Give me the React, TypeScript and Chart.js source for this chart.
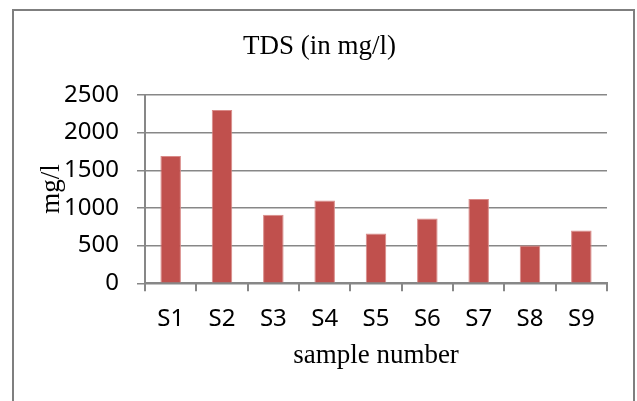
import React, { useEffect, useRef } from "react";
import { Chart, registerables } from "chart.js";

Chart.register(...registerables);

const categories = ["S1", "S2", "S3", "S4", "S5", "S6", "S7", "S8", "S9"];
const tdsValues = [1690, 2300, 910, 1100, 660, 860, 1120, 500, 700];
const yTicks = [0, 500, 1000, 1500, 2000, 2500];

const chartTitle = "TDS (in mg/l)";
const xTitle = "sample number";
const yTitle = "mg/l";

const GRID = "#878787";
const BAR = "#C0504D";
const SERIF = "'Liberation Serif', 'Times New Roman', serif";
const SANS = "'Noto Sans', 'Open Sans', sans-serif";

export default function App() {
  const ref = useRef<HTMLCanvasElement | null>(null);

  useEffect(() => {
    if (!ref.current) return;
    const chart = new Chart(ref.current, {
      type: "bar",
      data: {
        labels: categories,
        datasets: [
          {
            label: "TDS",
            data: tdsValues,
            backgroundColor: BAR,
            borderColor: "#d98a88",
            borderWidth: { top: 1, left: 1, right: 1, bottom: 0 },
            barPercentage: 0.4,
            categoryPercentage: 1,
          },
        ],
      },
      options: {
        animation: false,
        responsive: false,
        devicePixelRatio: 1,
        layout: { padding: { left: 2, right: 0, top: 0, bottom: 0 } },
        plugins: {
          legend: { display: false },
          tooltip: { enabled: false },
          title: {
            display: true,
            text: chartTitle,
            color: "#000",
            font: { family: SERIF, size: 27, weight: "normal" },
            padding: { top: 31, bottom: 31.5 },
          },
        },
        scales: {
          x: {
            offset: true,
            grid: {
              offset: true,
              drawOnChartArea: false,
              drawTicks: true,
              tickLength: 8,
              color: GRID,
              lineWidth: 2,
            },
            border: { color: GRID, width: 2 },
            ticks: {
              color: "#000",
              padding: 13,
              font: { family: SANS, size: 24 },
            },
            title: {
              display: true,
              text: xTitle,
              color: "#000",
              font: { family: SERIF, size: 27 },
              padding: { top: 29, bottom: 29 },
            },
            afterFit: (scale: any) => {
              scale.height = 117.7;
            },
          },
          y: {
            min: 0,
            max: 2500,
            afterBuildTicks: (scale: any) => {
              scale.ticks = yTicks.map((v) => ({ value: v }));
            },
            grid: {
              color: GRID,
              lineWidth: 1.5,
              drawTicks: true,
              tickLength: 8,
            },
            border: { color: GRID, width: 2 },
            ticks: {
              color: "#000",
              padding: 18,
              font: { family: SANS, size: 24 },
              callback: (v: any) => String(v),
            },
            title: {
              display: true,
              text: yTitle,
              color: "#000",
              font: { family: SERIF, size: 27 },
              padding: { top: 34, bottom: 34 },
            },
            afterFit: (scale: any) => {
              scale.width = 143;
            },
          },
          yRightSpacer: {
            position: "right",
            display: true,
            min: 0,
            max: 2500,
            grid: { display: false, drawTicks: false },
            border: { display: false },
            ticks: { display: false },
            afterFit: (scale: any) => {
              scale.width = 30;
            },
          },
        },
      },
    });
    return () => chart.destroy();
  }, []);

  return (
    <div
      style={{
        position: "absolute",
        left: 0,
        top: 0,
        width: 637,
        height: 401,
        background: "#fff",
        overflow: "hidden",
      }}
    >
      <div
        style={{
          position: "absolute",
          left: 12,
          top: 9,
          width: 623,
          height: 420,
          boxSizing: "border-box",
          borderLeft: "2px solid #7f7f7f",
          borderTop: "2px solid #7f7f7f",
          borderRight: "2px solid #7f7f7f",
        }}
      />
      <canvas
        ref={ref}
        width={637}
        height={401}
        style={{ position: "absolute", left: 0, top: 0, width: 637, height: 401 }}
      />
    </div>
  );
}
